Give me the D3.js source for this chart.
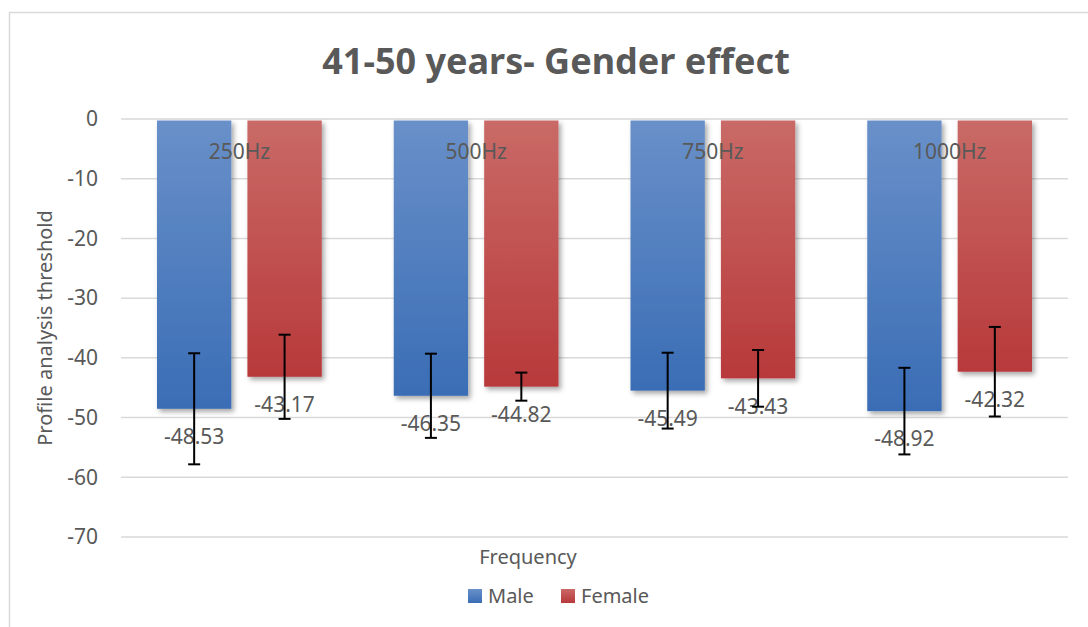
<!DOCTYPE html>
<html>
<head>
<meta charset="utf-8">
<script src="https://cdn.jsdelivr.net/npm/d3@7"></script>
<style>
  body { margin: 0; background: #fff; }
  text { font-family: "Noto Sans", "Open Sans", sans-serif; fill: #595959; }
</style>
</head>
<body>
<script>
// Data
const categories = ["250Hz", "500Hz", "750Hz", "1000Hz"];
const series = ["Male", "Female"];
const maleValues = [-48.53, -46.35, -45.49, -48.92];
const femaleValues = [-43.17, -44.82, -43.43, -42.32];
const maleErrors = [9.3, 7.05, 6.35, 7.25];
const femaleErrors = [7.05, 2.35, 4.75, 7.5];
const yTicks = [0, -10, -20, -30, -40, -50, -60, -70];

const W = 1088, H = 627;
const svg = d3.select("body").append("svg")
    .attr("width", W)
    .attr("height", H);

// chart border
svg.append("rect")
    .attr("x", 9.5).attr("y", 12.5)
    .attr("width", W + 10).attr("height", H + 10)
    .attr("fill", "none")
    .attr("stroke", "#d9d9d9")
    .attr("stroke-width", 1.5);

const defs = svg.append("defs");
const gradColors = { Male: ["#6990c9", "#3a6db5"], Female: ["#c96a67", "#b8393a"] };
series.forEach(s => {
  const gr = defs.append("linearGradient")
      .attr("id", "grad-" + s)
      .attr("x1", 0).attr("y1", 0).attr("x2", 0).attr("y2", 1);
  gr.append("stop").attr("offset", "0%").attr("stop-color", gradColors[s][0]);
  gr.append("stop").attr("offset", "100%").attr("stop-color", gradColors[s][1]);
});
const shadow = defs.append("filter").attr("id", "shadow")
    .attr("x", "-20%").attr("y", "-10%").attr("width", "150%").attr("height", "130%");
shadow.append("feDropShadow")
    .attr("dx", 2.5).attr("dy", 3)
    .attr("stdDeviation", 2.5)
    .attr("flood-color", "#000")
    .attr("flood-opacity", 0.35);

// Scales
const y = d3.scaleLinear().domain([-70, 0]).range([537, 119]);
const x0 = d3.scaleBand().domain(categories).range([121, 1068]);
const x1 = d3.scaleBand().domain(series)
    .range([36, x0.bandwidth() - 36])
    .paddingInner(0.178);

// Title
svg.append("text")
    .attr("x", 556)
    .attr("y", 74)
    .attr("text-anchor", "middle")
    .attr("font-size", "36px")
    .attr("font-weight", "bold")
    .text("41-50 years- Gender effect");

// Gridlines + y labels
svg.append("g").selectAll("line")
    .data(yTicks)
    .join("line")
    .attr("x1", 121).attr("x2", 1068)
    .attr("y1", d => y(d)).attr("y2", d => y(d))
    .attr("stroke", "#d9d9d9")
    .attr("stroke-width", 1.5);

svg.append("g").selectAll("text")
    .data(yTicks)
    .join("text")
    .attr("x", 98)
    .attr("y", d => y(d))
    .attr("dy", "0.35em")
    .attr("text-anchor", "end")
    .attr("font-size", "21px")
    .text(d => d);

// Axis titles
svg.append("text")
    .attr("transform", "translate(52," + ((y(0) + y(-70)) / 2) + ") rotate(-90)")
    .attr("text-anchor", "middle")
    .attr("font-size", "20px")
    .text("Profile analysis threshold");

svg.append("text")
    .attr("x", 528)
    .attr("y", 557)
    .attr("dy", "0.35em")
    .attr("text-anchor", "middle")
    .attr("font-size", "20px")
    .text("Frequency");

// Bars
const rows = categories.map((c, i) => ({
  cat: c,
  items: [
    { s: "Male", v: maleValues[i], e: maleErrors[i] },
    { s: "Female", v: femaleValues[i], e: femaleErrors[i] }
  ]
}));

const groups = svg.append("g").selectAll("g")
    .data(rows)
    .join("g")
    .attr("transform", d => "translate(" + x0(d.cat) + ",0)");

groups.selectAll("rect")
    .data(d => d.items)
    .join("rect")
    .attr("x", d => x1(d.s))
    .attr("y", y(0) + 1.5)
    .attr("width", x1.bandwidth())
    .attr("height", d => y(d.v) - y(0) - 1.5)
    .attr("fill", d => "url(#grad-" + d.s + ")")
    .attr("filter", "url(#shadow)");

// Category labels inside the top of bars
groups.append("text")
    .attr("x", x0.bandwidth() / 2)
    .attr("y", 152)
    .attr("dy", "0.35em")
    .attr("text-anchor", "middle")
    .attr("font-size", "21px")
    .text(d => d.cat);

// Value labels
groups.selectAll("text.val")
    .data(d => d.items)
    .join("text")
    .attr("class", "val")
    .attr("x", d => x1(d.s) + x1.bandwidth() / 2)
    .attr("y", d => y(d.v) + 28)
    .attr("dy", "0.35em")
    .attr("text-anchor", "middle")
    .attr("font-size", "21px")
    .text(d => d.v.toFixed(2));

// Error bars
const err = groups.selectAll("g.err")
    .data(d => d.items)
    .join("g")
    .attr("class", "err")
    .attr("stroke", "#000")
    .attr("stroke-width", 2);
err.append("line")
    .attr("x1", d => x1(d.s) + x1.bandwidth() / 2)
    .attr("x2", d => x1(d.s) + x1.bandwidth() / 2)
    .attr("y1", d => y(d.v + d.e))
    .attr("y2", d => y(d.v - d.e));
[1, -1].forEach(sign => {
  err.append("line")
      .attr("x1", d => x1(d.s) + x1.bandwidth() / 2 - 6)
      .attr("x2", d => x1(d.s) + x1.bandwidth() / 2 + 6)
      .attr("y1", d => y(d.v + sign * d.e))
      .attr("y2", d => y(d.v + sign * d.e));
});

// Legend
const legendX = [468, 561];
const legend = svg.append("g").selectAll("g")
    .data(series)
    .join("g")
    .attr("transform", (d, i) => "translate(" + legendX[i] + ",589)");
legend.append("rect")
    .attr("width", 14).attr("height", 14)
    .attr("fill", d => "url(#grad-" + d + ")");
legend.append("text")
    .attr("x", 20)
    .attr("y", 7)
    .attr("dy", "0.35em")
    .attr("font-size", "20px")
    .text(d => d);
</script>
</body>
</html>
